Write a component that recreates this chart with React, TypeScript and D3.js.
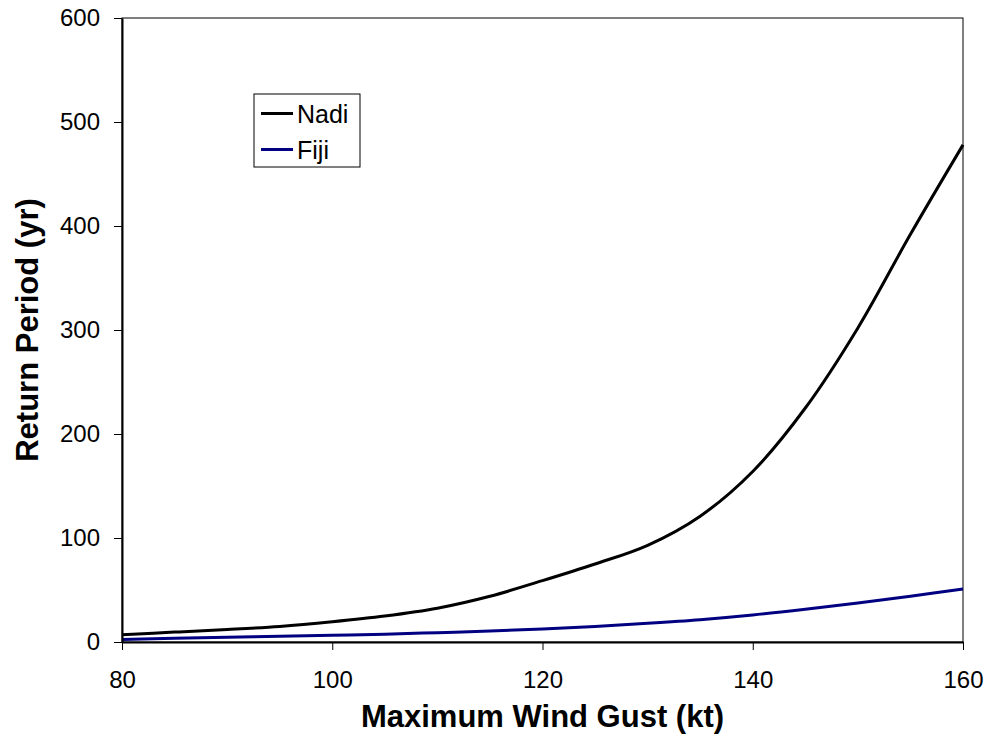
import React, { useEffect, useRef } from "react";
import * as d3 from "d3";

const windGust = [80, 85, 90, 95, 100, 105, 110, 115, 120, 125, 130, 135, 140, 145, 150, 155, 160];
const nadi = [7, 9.5, 12, 15, 19.5, 25, 32.5, 44, 59, 75, 93, 121, 164, 225, 302, 392, 478];
const fiji = [2.5, 3.5, 4.5, 5.5, 6.5, 7.5, 9, 10.5, 12.5, 15, 18, 21.5, 26, 31.5, 37.5, 44, 51];
const xTicks = [80, 100, 120, 140, 160];
const yTicks = [0, 100, 200, 300, 400, 500, 600];
const seriesNames = ["Nadi", "Fiji"];
const seriesColors = ["#000000", "#000080"];

const W = 989, H = 736;
const M = { left: 122, right: 963, top: 18, bottom: 642 };
const FONT = "'Liberation Sans', Arial, sans-serif";

export default function App() {
  const ref = useRef<SVGSVGElement>(null);
  useEffect(() => {
    const svg = d3.select(ref.current);
    svg.selectAll("*").remove();
    const x = d3.scaleLinear().domain([80, 160]).range([M.left, M.right]);
    const y = d3.scaleLinear().domain([0, 600]).range([M.bottom, M.top]);

    svg.append("rect").attr("width", W).attr("height", H).attr("fill", "#fff");

    // plot frame
    svg.append("rect")
      .attr("x", M.left).attr("y", M.top)
      .attr("width", M.right - M.left).attr("height", M.bottom - M.top)
      .attr("fill", "none").attr("stroke", "#000").attr("stroke-width", 1);

    // series
    const data = [nadi, fiji];
    data.forEach((vals, i) => {
      const line = d3.line<number>()
        .x((_, j) => x(windGust[j]))
        .y((d) => y(d))
        .curve(d3.curveCatmullRom.alpha(0.5));
      svg.append("path")
        .attr("d", line(vals) as string)
        .attr("fill", "none")
        .attr("stroke", seriesColors[i])
        .attr("stroke-width", 3);
    });

    // axes
    const gx = svg.append("g").attr("transform", `translate(0,${M.bottom})`)
      .call(d3.axisBottom(x).tickValues(xTicks).tickSize(8).tickPadding(22).tickSizeOuter(0));
    const gy = svg.append("g").attr("transform", `translate(${M.left},0)`)
      .call(d3.axisLeft(y).tickValues(yTicks).tickSize(8).tickPadding(14).tickSizeOuter(0));
    [gx, gy].forEach((g) => {
      g.select(".domain").attr("stroke", "#000").attr("stroke-width", 2);
      g.selectAll(".tick line").attr("stroke", "#000").attr("stroke-width", 1);
      g.selectAll(".tick text")
        .attr("font-family", FONT).attr("font-size", 24).attr("fill", "#000");
    });
    gx.selectAll(".tick text").attr("dy", "0.35em").attr("y", 38);

    // titles
    svg.append("text")
      .attr("x", (M.left + M.right) / 2).attr("y", 727)
      .attr("text-anchor", "middle")
      .attr("font-family", FONT).attr("font-size", 31).attr("font-weight", "bold")
      .text("Maximum Wind Gust (kt)");
    svg.append("text")
      .attr("transform", `translate(38,${(M.top + M.bottom) / 2}) rotate(-90)`)
      .attr("text-anchor", "middle")
      .attr("font-family", FONT).attr("font-size", 31).attr("font-weight", "bold")
      .text("Return Period (yr)");

    // legend
    const lg = svg.append("g");
    lg.append("rect").attr("x", 254).attr("y", 94).attr("width", 106).attr("height", 73)
      .attr("fill", "#fff").attr("stroke", "#000").attr("stroke-width", 1);
    seriesNames.forEach((name, i) => {
      const cy = 113.5 + i * 36;
      lg.append("line").attr("x1", 261).attr("x2", 293).attr("y1", cy).attr("y2", cy)
        .attr("stroke", seriesColors[i]).attr("stroke-width", 3);
      lg.append("text").attr("x", 297).attr("y", cy + 9)
        .attr("font-family", FONT).attr("font-size", 25).attr("fill", "#000")
        .text(name);
    });
  }, []);
  return (
    <svg ref={ref} width={W} height={H}
      style={{ position: "absolute", left: 0, top: 0, display: "block" }} />
  );
}
